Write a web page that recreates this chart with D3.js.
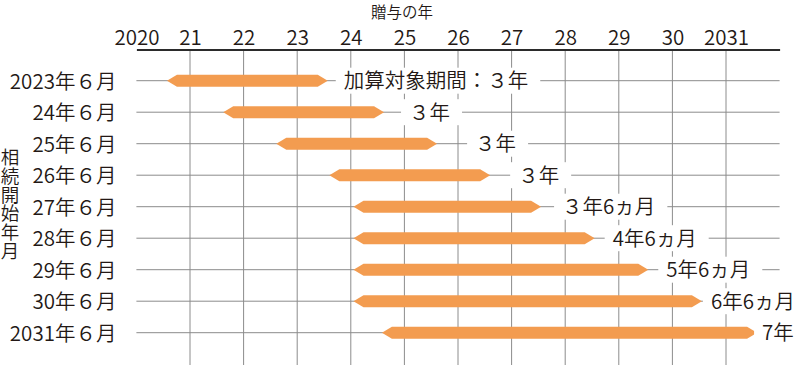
<!DOCTYPE html>
<html lang="ja">
<head>
<meta charset="utf-8">
<script src="https://cdn.jsdelivr.net/npm/d3@7"></script>
<style>
  html, body { margin: 0; padding: 0; background: #fff; }
  svg { display: block; }
  text { font-family: "Noto Sans CJK JP", "Noto Sans", sans-serif; fill: #231815; }
</style>
</head>
<body>
<svg id="chart" width="812" height="365"></svg>
<script>
// 相続開始年月（行）
const rowLabels = ["2023年６月", "24年６月", "25年６月", "26年６月", "27年６月",
                   "28年６月", "29年６月", "30年６月", "2031年６月"];
// 加算対象となる贈与の開始時期（年）
const giftStart = [2020.57, 2021.62, 2022.61, 2023.60, 2024.05, 2024.05, 2024.05, 2024.05, 2024.58];
// 加算対象期間（年）
const periodYears = [3, 3, 3, 3, 3.5, 4.5, 5.5, 6.5, 7];
const periodLabels = ["加算対象期間：３年", "３年", "３年", "３年", "３年6ヵ月",
                      "4年6ヵ月", "5年6ヵ月", "6年6ヵ月", "7年"];
// 贈与の年（目盛）
const tickYears = [2020, 2021, 2022, 2023, 2024, 2025, 2026, 2027, 2028, 2029, 2030, 2031];
const tickLabels = ["2020", "21", "22", "23", "24", "25", "26", "27", "28", "29", "30", "2031"];

const svg = d3.select("#chart");
const W = 812, H = 365;
const axisY = 49.5;
const FS = 20.5;
const FW = 350;

const x = d3.scaleLinear().domain([2020, 2032]).range([136.4, 779.6]);
const y = d3.scalePoint().domain(rowLabels).range([80.7, 332.7]);

// 縦の目盛線
svg.append("g")
  .selectAll("line")
  .data(tickYears.slice(1))
  .join("line")
  .attr("x1", d => x(d)).attr("x2", d => x(d))
  .attr("y1", axisY).attr("y2", H)
  .attr("stroke", "#8c8c8c").attr("stroke-width", 1);

// 行の基準線
svg.append("g")
  .selectAll("line")
  .data(rowLabels)
  .join("line")
  .attr("x1", x(2020)).attr("x2", x(2032))
  .attr("y1", d => y(d)).attr("y2", d => y(d))
  .attr("stroke", "#8c8c8c").attr("stroke-width", 1);

// 上部の年軸
const xAxis = svg.append("g")
  .attr("transform", `translate(0,${axisY})`)
  .call(d3.axisTop(x)
    .tickValues(tickYears)
    .tickFormat((d, i) => tickLabels[i])
    .tickSize(0)
    .tickPadding(4.5));
xAxis.select(".domain").attr("stroke", "#2b2b2b").attr("stroke-width", 1.8);
xAxis.selectAll("text")
  .style("font-family", "\"Noto Sans CJK JP\", sans-serif")
  .style("font-size", FS + "px")
  .style("font-weight", FW)
  .attr("fill", "#231815");

svg.append("text")
  .attr("x", 402).attr("y", 17.8)
  .attr("text-anchor", "middle")
  .style("font-size", "15.5px")
  .style("font-weight", FW)
  .text("贈与の年");

// 行ラベル
const yAxis = svg.append("g")
  .attr("transform", `translate(${x(2020)},0)`)
  .call(d3.axisLeft(y).tickSize(0).tickPadding(20));
yAxis.select(".domain").remove();
yAxis.selectAll("text")
  .style("font-family", "\"Noto Sans CJK JP\", sans-serif")
  .style("font-size", FS + "px")
  .style("font-weight", FW)
  .attr("dy", "0.36em")
  .attr("fill", "#231815");

// 縦書きの軸タイトル
svg.append("text")
  .attr("x", 10).attr("y", 148)
  .style("writing-mode", "vertical-rl")
  .style("font-size", "18.5px")
  .style("font-weight", FW)
  .style("letter-spacing", "0.2px")
  .text("相続開始年月");

// 両端がとがった期間バー
const half = 6, tip = 10;
const rows = rowLabels.map((r, i) => ({
  row: r,
  start: giftStart[i],
  end: giftStart[i] + periodYears[i],
  label: periodLabels[i]
}));

function barPath(d) {
  const x0 = x(d.start), x1 = x(d.end), cy = y(d.row);
  return `M${x0},${cy}L${x0 + tip},${cy - half}L${x1 - tip},${cy - half}` +
         `L${x1},${cy}L${x1 - tip},${cy + half}L${x0 + tip},${cy + half}Z`;
}

svg.append("g")
  .selectAll("path")
  .data(rows)
  .join("path")
  .attr("d", barPath)
  .attr("fill", "#f39c50");

// 期間ラベル（白地で線を隠す）
const labelGap = [16, 25, 38, 28, 21, 18, 18, 9, 5];
const lab = svg.append("g")
  .selectAll("g")
  .data(rows)
  .join("g")
  .attr("transform", (d, i) => `translate(${x(d.end) + labelGap[i]},${y(d.row)})`);

lab.append("rect").attr("fill", "#fff");
lab.append("text")
  .attr("dy", "0.36em")
  .style("font-size", FS + "px")
  .style("font-weight", FW)
  .text(d => d.label);

lab.each(function () {
  const g = d3.select(this);
  const bb = g.select("text").node().getBBox();
  g.select("rect")
    .attr("x", bb.x - 8).attr("width", bb.width + 20)
    .attr("y", -13).attr("height", 26);
});
</script>
</body>
</html>
